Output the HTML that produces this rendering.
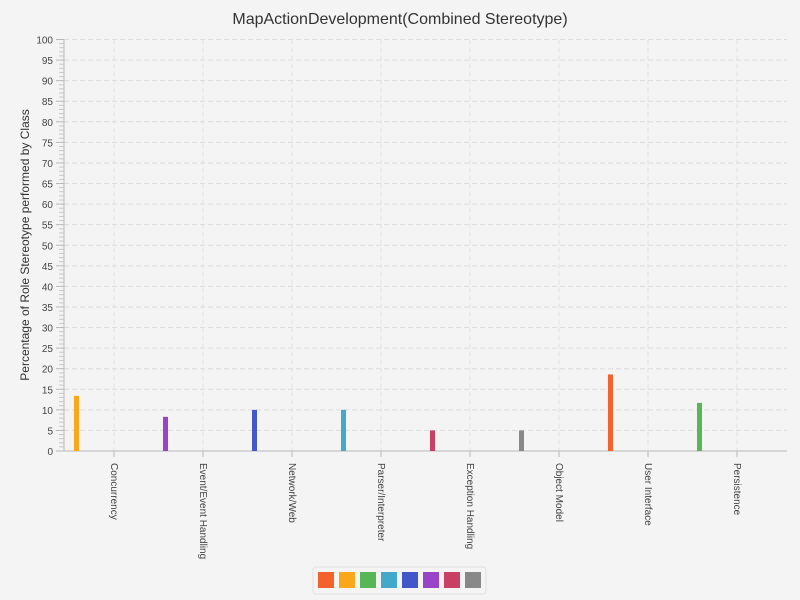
<!DOCTYPE html>
<html><head><meta charset="utf-8"><style>
body{margin:0;background:#f4f4f4;}
svg{display:block;font-family:"Liberation Sans",sans-serif;}
</style></head><body>
<svg id="c" width="800" height="600">
<rect width="800" height="600" fill="#f4f4f4"/>
<text x="400" y="24" text-anchor="middle" font-size="16" fill="#333">MapActionDevelopment(Combined Stereotype)</text>
<text transform="translate(29,245) rotate(-90)" text-anchor="middle" font-size="12" fill="#333">Percentage of Role Stereotype performed by Class</text>
<g id="grid"></g><g id="axes"></g><g id="bars"></g><g id="legend"></g>
</svg>
<script>
const categories=["Concurrency","Event/Event Handling","Network/Web","Parser/Interpreter","Exception Handling","Object Model","User Interface","Persistence"];
const seriesColors=["#f3622d","#fba71b","#57b757","#41a9c9","#4258c9","#9a42c8","#c84164","#888888"];
const barSeries=[1,5,4,3,6,7,0,2];
const values=[13.4,8.3,10,10,5,5,18.6,11.7];
const yTicks=[0,5,10,15,20,25,30,35,40,45,50,55,60,65,70,75,80,85,90,95,100];
const NS="http://www.w3.org/2000/svg";
const X0=64,X1=787,Y0=451,Y1=39.5;
function y(v){return Y0-(v/100)*(Y0-Y1);}
function x(i){return 114+i*89;}
function mk(t,a,p){const e=document.createElementNS(NS,t);for(const k in a)e.setAttribute(k,a[k]);p.appendChild(e);return e;}
const grid=document.getElementById('grid'),axes=document.getElementById('axes'),bars=document.getElementById('bars'),leg=document.getElementById('legend');
yTicks.forEach(v=>{
 if(v>0){const g=mk('line',{x1:X0,x2:X1,y1:y(v),y2:y(v),stroke:'#dcdcdc','stroke-dasharray':'5,3'},grid);
 
 }
 mk('line',{x1:56,x2:X0,y1:y(v),y2:y(v),stroke:'#b8b8b8'},axes);
 const t=mk('text',{x:53,y:y(v)+4,'text-anchor':'end','font-size':'10',fill:'#444'},axes);t.textContent=v;
 
 
});
for(let v=0;v<100;v++){if(v%5)mk('line',{x1:59,x2:X0,y1:y(v),y2:y(v),stroke:'#c8c8c8'},axes);}
mk('line',{x1:X0,x2:X0,y1:Y1,y2:Y0,stroke:'#b8b8b8'},axes);
mk('line',{x1:X0,x2:X1,y1:Y0,y2:Y0,stroke:'#b8b8b8'},axes);
categories.forEach((c,i)=>{
 const g=mk('line',{x1:x(i),x2:x(i),y1:Y1,y2:Y0,stroke:'#e2e2e2','stroke-dasharray':'5,3'},grid);
 
 
 mk('line',{x1:x(i),x2:x(i),y1:Y0,y2:Y0+6,stroke:'#b8b8b8'},axes);
 const t=mk('text',{x:0,y:0,'font-size':'10',fill:'#444',transform:`translate(${x(i)-3},${Y0+12}) rotate(90)`},axes);t.textContent=c;
 
 
 const b=mk('rect',{x:x(i)-40,y:y(values[i]),width:5,height:Y0-y(values[i]),fill:seriesColors[barSeries[i]]},bars);
 
 
});
const box=mk('rect',{x:313,y:567,width:173,height:27,rx:3,fill:'#f4f4f4',stroke:'#e0e0e0'},leg);


seriesColors.forEach((c,i)=>{
 const r=mk('rect',{x:318+i*21,y:572,width:16,height:16,fill:c},leg);
 
 
});
</script>
</body></html>
